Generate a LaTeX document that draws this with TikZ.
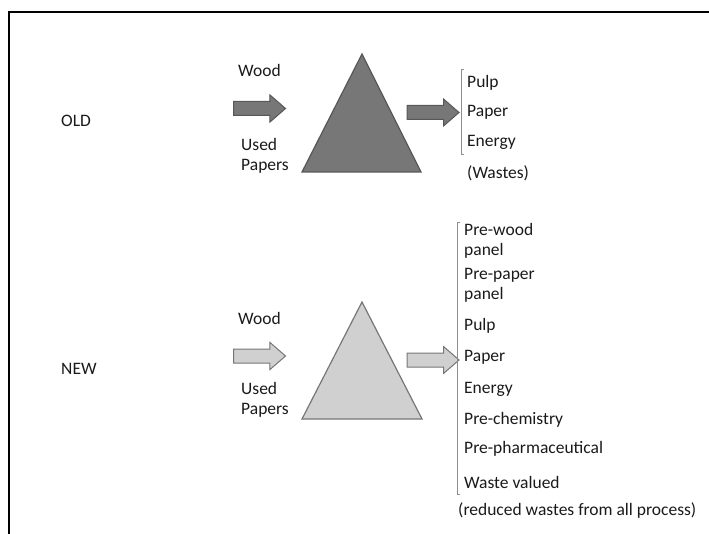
\documentclass[tikz,border=0pt]{standalone}
\usepackage{fontspec}
\setmainfont{Carlito}
\usetikzlibrary{positioning,calc,shapes.arrows}
\definecolor{inkBlack}{HTML}{1A1A1A}
\definecolor{oldFill}{HTML}{777777}
\definecolor{oldLine}{HTML}{575757}
\definecolor{newFill}{HTML}{D0D0D0}
\definecolor{newLine}{HTML}{767676}
\definecolor{braceGray}{HTML}{8E8E8E}
\tikzset{
    word/.style={anchor=west,inner sep=0pt,align=left,text=inkBlack,
        font=\fontsize{17.5}{20}\selectfont},
    oldarrow/.style={single arrow,draw=oldLine,fill=oldFill,line width=1pt,
        single arrow head extend=6.5pt,single arrow tip angle=82,
        inner xsep=0pt,inner ysep=6.5pt,minimum height=52pt,minimum width=26pt},
    newarrow/.style={oldarrow,draw=newLine,fill=newFill},
    oldtri/.style={draw=oldLine,fill=oldFill,line width=1.2pt,line join=miter},
    newtri/.style={draw=newLine,fill=newFill,line width=1.2pt,line join=miter},
    listbar/.style={draw=braceGray,line width=0.8pt},
    frameline/.style={draw=black,line width=2pt}
}
\begin{document}
\begin{tikzpicture}[x=1pt,y=-1pt]
    \useasboundingbox (0,0) rectangle (709,534);
    \draw[frameline] (709,12) -- (9,12) -- (9,534);

    % old process
    \node[word] (oldTag) at (61,121) {OLD};
    \node[word] (oldWood) at (238,70) {Wood};
    \node[word] (oldUsed) at (241,156) {Used\\Papers};
    \node[oldarrow] (oldIn) at (255.5,108.5) {};
    \draw[oldtri] (362,54) -- (302,172) -- (421,172) -- cycle;
    \node[oldarrow] (oldOut) at (429,112.5) {};
    \coordinate (oldTop) at (461,69);
    \coordinate (oldBot) at (461,154);
    \draw[listbar] ($(oldTop)+(3,0)$) -- (oldTop) -- (oldBot) -- ($(oldBot)+(3,0)$);
    \node[word] (oldPulp) at (467,83) {Pulp};
    \node[word] (oldPaper) at (467,112) {Paper};
    \node[word] (oldEnergy) at (467,142) {Energy};
    \node[word] (oldWaste) at (467,173) {(Wastes)};

    % new process
    \node[word] (newTag) at (61,369) {NEW};
    \node[word] (newWood) at (238,318) {Wood};
    \node[word] (newUsed) at (241,400) {Used\\Papers};
    \node[newarrow] (newIn) at (255.5,356) {};
    \draw[newtri] (362,302) -- (302,419) -- (422,419) -- cycle;
    \node[newarrow] (newOut) at (429,360) {};
    \coordinate (newTop) at (457,222);
    \coordinate (newBot) at (457,494);
    \draw[listbar] ($(newTop)+(3,0)$) -- (newTop) -- (newBot) -- ($(newBot)+(3,0)$);
    \node[word] (newWoodPanel) at (464,241) {Pre-wood\\panel};
    \node[word] (newPaperPanel) at (464,285) {Pre-paper\\panel};
    \node[word] (newPulp) at (464,326) {Pulp};
    \node[word] (newPaper) at (464,357) {Paper};
    \node[word] (newEnergy) at (464,389) {Energy};
    \node[word] (newChem) at (464,420) {Pre-chemistry};
    \node[word] (newPharma) at (464,449) {Pre-pharmaceutical};
    \node[word] (newValued) at (464,482) {Waste valued};
    \node[word] (newReduced) at (458,511) {(reduced wastes from all process)};
\end{tikzpicture}
\end{document}
